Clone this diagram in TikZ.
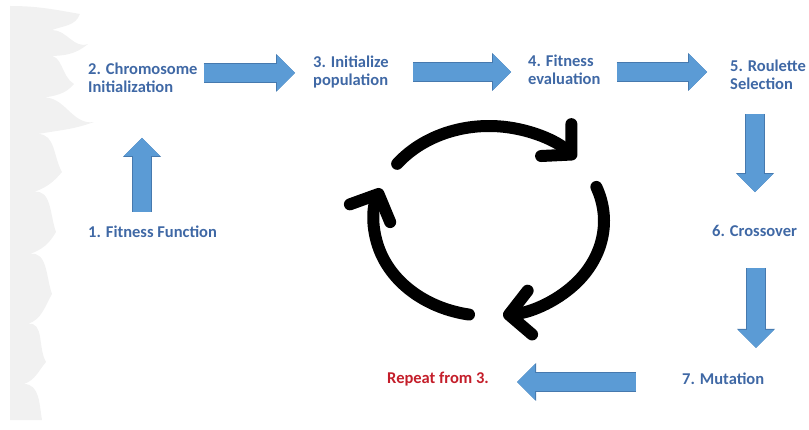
\documentclass[tikz,border=0pt]{standalone}
\usepackage{fontspec}
\setmainfont{Carlito}
\usetikzlibrary{arrows.meta}
\definecolor{stepblue}{HTML}{3F68A5}
\definecolor{arrowfill}{HTML}{5B9BD5}
\definecolor{arrowedge}{HTML}{4679AE}
\definecolor{repeatred}{HTML}{C41E2A}
\definecolor{brushgray}{HTML}{F1F1F1}

\begin{document}
\begin{tikzpicture}[x=1pt,y=1pt, every node/.style={font=\fontsize{16.5}{17.5}\selectfont\bfseries},
      stage/.style={text=stepblue,align=left,anchor=west,inner sep=0pt},
      barrow/.style={draw=arrowfill,line width=18pt,-{Triangle[length=18pt,width=36pt,line width=0pt]},
        preaction={draw=arrowedge,line width=19.5pt,-{Triangle[length=19pt,width=38pt,line width=0pt]}}},
      cycarrow/.style={line width=12pt,line cap=round,-{Straight Barb[length=21pt,width=44pt,round]}}]
    \useasboundingbox (0,0) rectangle (809,-430);
    \fill[brushgray] (10,-6) to[out=0,in=170] (80,-14) to[out=250,in=20] (52,-30) to[out=0,in=200] (88,-44)
      to[out=220,in=0] (48,-56) to[out=10,in=150] (74,-84) to[out=230,in=10] (42,-98) to[out=10,in=190] (94,-122)
      to[out=200,in=10] (38,-134) to[out=0,in=120] (62,-172) to[out=230,in=20] (34,-192) to[out=10,in=110] (56,-232)
      to[out=240,in=20] (30,-254) to[out=10,in=110] (52,-294) to[out=240,in=20] (28,-324) to[out=10,in=120] (46,-362)
      to[out=230,in=20] (24,-384) to[out=0,in=100] (42,-420) -- (10,-420) -- cycle;
    \node[stage] (fitfun) at (88,-232) {1. Fitness Function};
    \node[stage] (chrom) at (88,-78) {2. Chromosome\\Initialization};
    \node[stage] (initpop) at (313,-72) {3. Initialize\\population};
    \node[stage] (fiteval) at (528,-70) {4. Fitness\\evaluation};
    \node[stage] (roul) at (730,-75) {5. Roulette\\Selection};
    \node[stage] (cross) at (712,-231) {6. Crossover};
    \node[stage] (mut) at (682,-379) {7. Mutation};
    \node[stage,text=repeatred] (rep) at (387,-379) {Repeat from 3.};
    \draw[barrow,shorten <=14pt,shorten >=45pt] (fitfun.north -| 142,0) -- (chrom.south -| 142,0);
    \draw[barrow,shorten <=6pt,shorten >=18pt] (chrom.east |- 0,-73) -- (initpop.west |- 0,-73);
    \draw[barrow,shorten <=24pt,shorten >=17pt] (initpop.east |- 0,-72) -- (fiteval.west |- 0,-72);
    \draw[barrow,shorten <=16pt,shorten >=23pt] (fiteval.east |- 0,-72) -- (roul.west |- 0,-72);
    \draw[barrow,shorten <=24pt,shorten >=33pt] (roul.south -| 755,0) -- (cross.north -| 755,0);
    \draw[barrow,shorten <=31pt,shorten >=25pt] (cross.south -| 756,0) -- (mut.north -| 756,0);
    \draw[barrow,shorten <=46pt,shorten >=28pt] (mut.west |- 0,-382) -- (rep.east |- 0,-382);
    \coordinate (cyc) at (489,-221);
    \draw[cycarrow] (cyc) ++(143:115 and 95) arc[start angle=143,end angle=41,x radius=115,y radius=95];
    \draw[cycarrow] (cyc) ++(21:115 and 95) arc[start angle=21,end angle=-83,x radius=115,y radius=95];
    \draw[cycarrow] (cyc) ++(260:115 and 95) arc[start angle=260,end angle=160,x radius=115,y radius=95];
  \end{tikzpicture}
\end{document}
